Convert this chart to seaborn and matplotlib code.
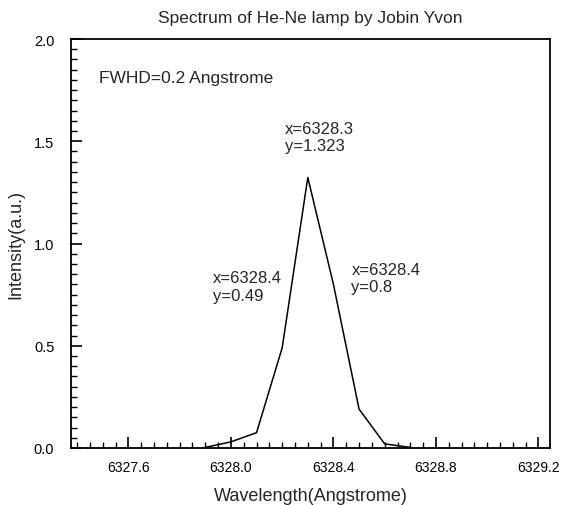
import matplotlib
matplotlib.use("Agg")
import matplotlib.pyplot as plt
from matplotlib.ticker import MultipleLocator, FormatStrFormatter
import seaborn as sns
import pandas as pd

wavelength = [6327.9, 6328.0, 6328.1, 6328.2, 6328.3, 6328.4, 6328.5, 6328.6, 6328.7]
intensity = [0.003, 0.03, 0.075, 0.49, 1.323, 0.80, 0.19, 0.02, 0.003]

title = "Spectrum of He-Ne lamp by Jobin Yvon"
xlabel = "Wavelength(Angstrome)"
ylabel = "Intensity(a.u.)"
note = "FWHD=0.2 Angstrome"
peak_labels = [
    (6328.21, 1.52, "x=6328.3\ny=1.323"),
    (6327.93, 0.79, "x=6328.4\ny=0.49"),
    (6328.47, 0.83, "x=6328.4\ny=0.8"),
]

sns.set_style("ticks")
plt.rcParams["font.family"] = ["Liberation Sans", "DejaVu Sans"]

df = pd.DataFrame({"wavelength": wavelength, "intensity": intensity})

fig = plt.figure(figsize=(5.61, 5.06), dpi=100)
left, right, bottom, top = 71 / 561, 550 / 561, 1 - 449 / 506, 1 - 40 / 506
ax = fig.add_axes([left, bottom, right - left, top - bottom])
sns.lineplot(data=df, x="wavelength", y="intensity", color="black", linewidth=1.1, ax=ax)

ax.set_xlim(6327.376, 6329.245)
ax.set_ylim(0, 2.0)
ax.xaxis.set_major_locator(MultipleLocator(0.4))
ax.xaxis.set_minor_locator(MultipleLocator(0.05))
ax.yaxis.set_major_locator(MultipleLocator(0.5))
ax.yaxis.set_minor_locator(MultipleLocator(0.05))
ax.xaxis.set_major_formatter(FormatStrFormatter("%.1f"))
ax.yaxis.set_major_formatter(FormatStrFormatter("%.1f"))

ax.tick_params(axis="x", which="major", direction="in", length=8, width=1.2,
               labelsize=10, colors="black", pad=9)
ax.tick_params(axis="y", which="major", direction="in", length=8, width=1.2,
               labelsize=10.5, colors="black", pad=12)
ax.tick_params(axis="both", which="minor", direction="in", length=4, width=1.0, colors="black")
ax.tick_params(top=False, right=False, which="both")
for s in ax.spines.values():
    s.set_visible(True)
    s.set_linewidth(1.3)
    s.set_color("black")

ax.set_xlabel(xlabel, fontsize=13, labelpad=9)
ax.set_ylabel(ylabel, fontsize=13, labelpad=7)
ax.set_title(title, fontsize=12.5, pad=12)

ax.text(6327.485, 1.814, note, fontsize=12.5, ha="left", va="center")
for x, y, t in peak_labels:
    ax.text(x, y, t, fontsize=12, ha="left", va="center", linespacing=1.2)

fig.savefig("out.png", dpi=100)
